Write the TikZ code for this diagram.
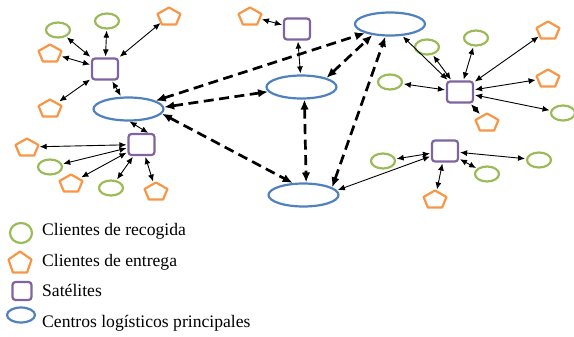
\documentclass[tikz,border=0pt]{standalone}
\usepackage{fontspec}
\setmainfont{Liberation Serif}
\usetikzlibrary{shapes.geometric,arrows.meta}
\definecolor{cgreen}{RGB}{155,187,89}
\definecolor{corange}{RGB}{247,150,70}
\definecolor{cpurple}{RGB}{128,100,162}
\definecolor{cblue}{RGB}{79,129,189}
% pentagon: name, x, y, width, height
\newcommand\pentshape[5]{%
  \node[pentbox, minimum width=#4pt, minimum height=#5pt] (#1) at (#2,#3) {};
  \draw[pentline] (#2,#3-#5/2) -- (#2+#4/2,#3-#5/2+0.382*#5) -- (#2+0.309*#4,#3+#5/2)
    -- (#2-0.309*#4,#3+#5/2) -- (#2-#4/2,#3-#5/2+0.382*#5) -- cycle;
}
\tikzset{
  cli/.style={ellipse, draw=cgreen, line width=2.2pt, minimum width=24pt, minimum height=15pt, inner sep=0pt},
  sat/.style={rectangle, rounded corners=3pt, draw=cpurple, line width=2.2pt, minimum width=26pt, minimum height=21pt, inner sep=0pt},
  hub/.style={ellipse, draw=cblue, line width=2.2pt, minimum width=70pt, minimum height=23pt, inner sep=0pt},
  pentbox/.style={ellipse, inner sep=0pt},
  pentline/.style={draw=corange, line width=2.2pt, line join=round},
  link/.style={{Latex[length=7pt,width=6pt]}-{Latex[length=7pt,width=6pt]}, line width=0.9pt, shorten <=1pt, shorten >=1pt},
  trunk/.style={{Latex[length=10pt,width=8.5pt]}-{Latex[length=10pt,width=8.5pt]}, line width=2.7pt, dash pattern=on 10pt off 5.5pt},
  legtext/.style={anchor=base west, font=\fontsize{17.6}{19}\selectfont, inner sep=0pt}
}
\begin{document}
\begin{tikzpicture}[x=1pt,y=-1pt]
\useasboundingbox (0,0) rectangle (574,337);
% hubs
\node[hub] (lh) at (128.5,109) {};
\node[hub] (mh) at (301.5,87) {};
\node[hub] (tr) at (390,24) {};
\node[hub] (bh) at (303.5,195) {};
% satellites
\node[sat] (s1) at (105,69) {};
\node[sat] (s2) at (141.5,144.5) {};
\node[sat] (s3) at (297,29) {};
\node[sat] (s4) at (460,92) {};
\node[sat] (s5) at (445,151) {};
% pickup clients
\node[cli] (g1) at (58,30) {};
\node[cli] (g2) at (107,21) {};
\node[cli] (g3) at (50,167) {};
\node[cli] (g4) at (111,188) {};
\node[cli] (g5) at (427,47) {};
\node[cli] (g6) at (476,38) {};
\node[cli] (g7) at (390,82) {};
\node[cli] (g8) at (563,113) {};
\node[cli] (g9) at (383,161) {};
\node[cli] (g10) at (539,160) {};
\node[cli] (g11) at (487,174) {};
% delivery clients
\pentshape{p1}{169}{16}{23}{17}
\pentshape{p2}{50}{53}{23}{17}
\pentshape{p3}{50}{108}{23}{17}
\pentshape{p4}{27}{147}{23}{17}
\pentshape{p5}{71}{183}{23}{17}
\pentshape{p6}{156}{191}{23}{17}
\pentshape{p7}{250}{16}{23}{17}
\pentshape{p8}{548}{30}{23}{17}
\pentshape{p9}{548}{78}{23}{17}
\pentshape{p10}{487}{122}{23}{17}
\pentshape{p11}{435}{199}{23}{17}
% thin links
\foreach \t in {g1,g2,p1,p2,p3,lh} \draw[link] (s1) -- (\t);
\foreach \t in {p4,g3,p5,g4,p6} \draw[link] (s2) -- (\t);
\draw[link, shorten <=0pt, shorten >=0pt] (lh.-85) -- (s2.60);
\foreach \t in {p7,mh} \draw[link] (s3) -- (\t);
\foreach \t in {tr,g5,g6,p8,g7,p9,g8,p10} \draw[link] (s4) -- (\t);
\foreach \t in {g9,g10,g11,p11} \draw[link] (s5) -- (\t);
\draw[link] (s5) -- (bh.8);
% trunk links
\draw[trunk] (lh.17) -- (tr.200);
\draw[trunk] (lh.3) -- (mh.188);
\draw[trunk] (lh.-8) -- (bh.132);
\draw[trunk] (mh.20) -- (tr.212);
\draw[trunk] (mh.-77) -- (bh.78);
\draw[trunk] (bh.15) -- (tr.250);
% legend
\node[cli, minimum width=22pt, minimum height=20pt] (lg1) at (21,233) {};
\pentshape{lg2}{20}{262}{23}{21}
\node[sat, minimum width=19pt, minimum height=18pt] (lg3) at (22,291) {};
\node[hub, minimum width=28pt, minimum height=15pt] (lg4) at (21,315) {};
\node[legtext] (t1) at (42,236) {Clientes de recogida};
\node[legtext] (t2) at (42,266) {Clientes de entrega};
\node[legtext] (t3) at (42,296) {Satélites};
\node[legtext] (t4) at (42,327) {Centros logísticos principales};
\end{tikzpicture}
\end{document}
